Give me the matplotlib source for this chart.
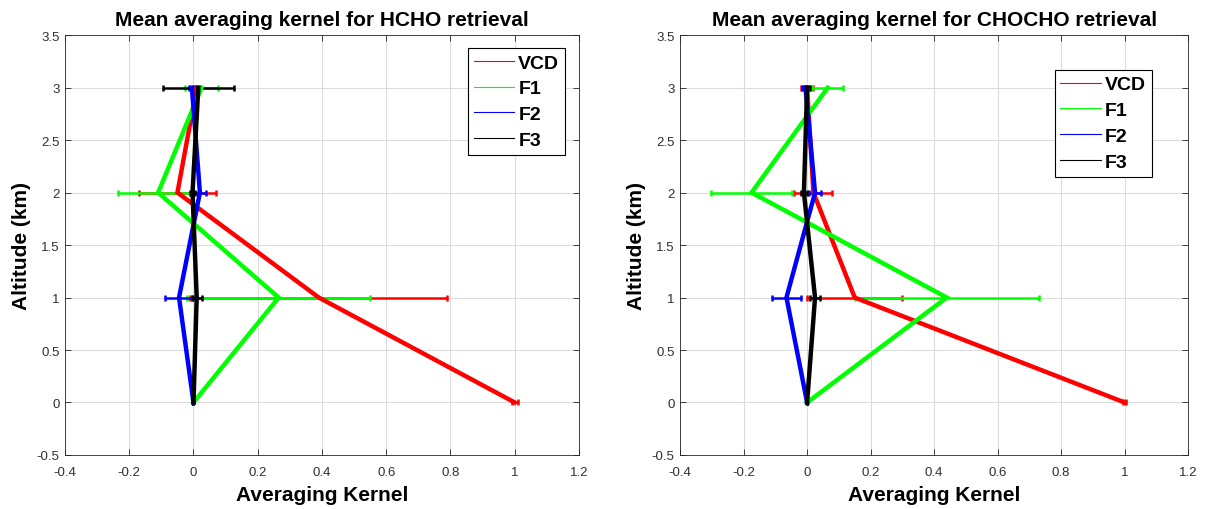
import matplotlib
matplotlib.use("Agg")
import matplotlib.pyplot as plt
from matplotlib.ticker import FuncFormatter

plt.rcParams['font.family'] = ['Liberation Sans', 'DejaVu Sans']

altitude = [0, 1, 2, 3]
series = ['VCD', 'F1', 'F2', 'F3']
colors = ['#ff0000', '#00ff00', '#0000ff', '#000000']

# HCHO mean averaging kernel and its spread
hcho_ak = {
    'VCD': [1.0, 0.39, -0.05, 0.01],
    'F1': [0.0, 0.265, -0.11, 0.025],
    'F2': [0.0, -0.045, 0.02, -0.005],
    'F3': [0.0, 0.01, -0.003, 0.015],
}
hcho_err = {
    'VCD': [0.01, 0.40, 0.12, 0.01],
    'F1': [0.0, 0.285, 0.125, 0.05],
    'F2': [0.0, 0.045, 0.02, 0.01],
    'F3': [0.0, 0.015, 0.008, 0.11],
}

# CHOCHO mean averaging kernel and its spread
chocho_ak = {
    'VCD': [1.0, 0.15, 0.02, 0.0],
    'F1': [0.0, 0.44, -0.175, 0.065],
    'F2': [0.0, -0.065, 0.025, -0.005],
    'F3': [0.0, 0.025, -0.01, 0.0],
}
chocho_err = {
    'VCD': [0.005, 0.15, 0.06, 0.02],
    'F1': [0.0, 0.29, 0.127, 0.048],
    'F2': [0.0, 0.045, 0.02, 0.01],
    'F3': [0.0, 0.015, 0.01, 0.01],
}

titles = ['Mean averaging kernel for HCHO retrieval',
          'Mean averaging kernel for CHOCHO retrieval']


def fmt(v, pos):
    s = '%g' % round(v, 2)
    return '0' if s == '-0' else s


fig = plt.figure(figsize=(12.08, 5.10), dpi=100)
ax1 = fig.add_axes([0.0538, 0.106, 0.4255, 0.823])
ax2 = fig.add_axes([0.563, 0.106, 0.4205, 0.823])

panels = [(ax1, hcho_ak, hcho_err, (0.973, 0.969), titles[0]),
          (ax2, chocho_ak, chocho_err, (0.929, 0.917), titles[1])]

for ax, ak, err, anchor, title in panels:
    handles = []
    for name, c in zip(series, colors):
        ax.errorbar(ak[name], altitude, xerr=err[name], fmt='none', ecolor=c,
                    elinewidth=1.8, capsize=2.5, capthick=1.8, zorder=2)
    for name, c in zip(series, colors):
        ax.plot(ak[name], altitude, color=c, lw=3.2, zorder=3,
                solid_joinstyle='miter')
        h, = ax.plot([], [], color=c, lw=0.8, label=name)
        handles.append(h)

    ax.set_xlim(-0.4, 1.2)
    ax.set_ylim(-0.5, 3.5)
    ax.set_xticks([-0.4, -0.2, 0, 0.2, 0.4, 0.6, 0.8, 1.0, 1.2])
    ax.set_yticks([-0.5, 0, 0.5, 1, 1.5, 2, 2.5, 3, 3.5])
    ax.xaxis.set_major_formatter(FuncFormatter(fmt))
    ax.yaxis.set_major_formatter(FuncFormatter(fmt))
    ax.tick_params(direction='in', top=True, right=True, labelsize=9.5,
                   length=4, width=0.6, colors='#262626', labelcolor='#303030')
    ax.tick_params(axis='x', pad=8)
    ax.tick_params(axis='y', pad=4)
    ax.grid(True, color='#dcdcdc', lw=0.8)
    ax.set_axisbelow(True)
    for s in ax.spines.values():
        s.set_color('#262626')
        s.set_linewidth(0.6)

    ax.set_xlabel('Averaging Kernel', fontsize=15, fontweight='bold', labelpad=5)
    ax.set_ylabel('Altitude (km)', fontsize=15, fontweight='bold', labelpad=4)
    ax.set_title(title, fontsize=15, fontweight='bold', pad=7)

    leg = ax.legend(handles=handles, loc='upper right', bbox_to_anchor=anchor,
                    prop={'weight': 'bold', 'size': 14}, fancybox=False,
                    framealpha=1, edgecolor='black', handlelength=2.1,
                    handletextpad=0.2, borderpad=0.3, labelspacing=0.42,
                    borderaxespad=0)
    leg.get_frame().set_linewidth(0.8)

fig.savefig('out.png', dpi=100)
